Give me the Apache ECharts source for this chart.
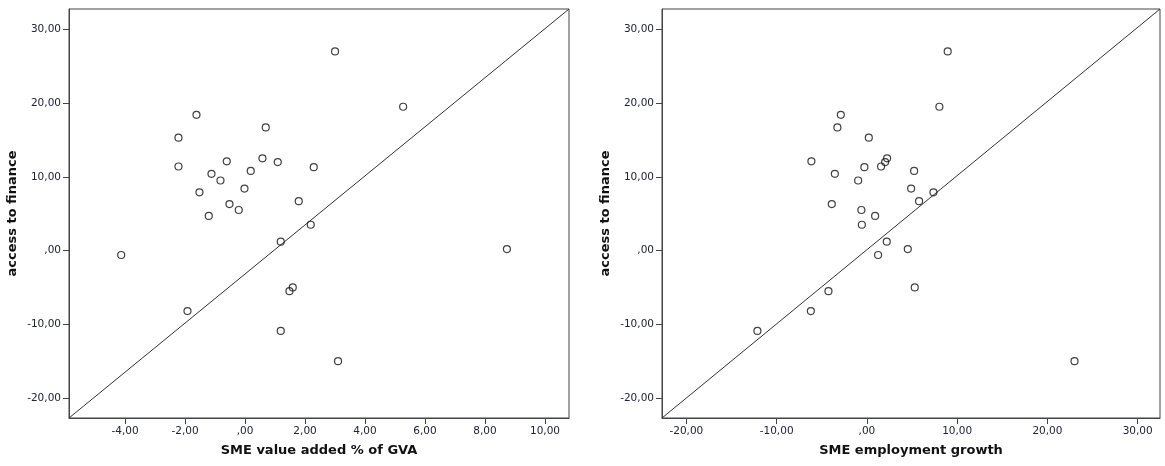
<!DOCTYPE html>
<html>
<head>
<meta charset="utf-8">
<script src="https://cdn.jsdelivr.net/npm/echarts@6/dist/echarts.min.js"></script>
<style>
html,body{margin:0;padding:0;background:#fff;}
#chart{width:1165px;height:466px;}
</style>
</head>
<body>
<div id="chart"></div>
<script>
// ---- data ----
const accessToFinance = [27.0, 19.5, 18.4, 16.7, 15.3, 12.1, 12.5, 12.0, 11.4, 11.3, 10.8, 10.4, 9.5, 7.9, 8.4, 6.7, 6.3, 5.5, 4.7, 3.5, 1.2, -0.6, 0.2, -5.0, -5.5, -8.2, -10.9, -15.0];
const smeValueAdded = [3.0, 5.27, -1.62, 0.69, -2.22, -0.61, 0.58, 1.09, -2.22, 2.29, 0.19, -1.12, -0.82, -1.52, -0.02, 1.79, -0.52, -0.21, -1.21, 2.19, 1.19, -4.13, 8.73, 1.59, 1.48, -1.92, 1.19, 3.1];
const smeEmploymentGrowth = [8.95, 8.03, -2.89, -3.27, 0.21, -6.15, 2.24, 2.02, 1.57, -0.28, 5.23, -3.55, -0.97, 7.37, 4.9, 5.78, -3.89, -0.61, 0.91, -0.56, 2.2, 1.24, 4.53, 5.3, -4.26, -6.21, -12.13, 23.0];

const yTicks = [-20, -10, 0, 10, 20, 30];
const yTickLabels = ['-20,00', '-10,00', ',00', '10,00', '20,00', '30,00'];
const x1Ticks = [-4, -2, 0, 2, 4, 6, 8, 10];
const x1TickLabels = ['-4,00', '-2,00', ',00', '2,00', '4,00', '6,00', '8,00', '10,00'];
const x2Ticks = [-20, -10, 0, 10, 20, 30];
const x2TickLabels = ['-20,00', '-10,00', ',00', '10,00', '20,00', '30,00'];

const yRange = [-22.7, 32.75];
const x1Range = [-5.87, 10.8];
const x2Range = [-22.7, 32.47];

const yTitle = 'access to finance';
const x1Title = 'SME value added % of GVA';
const x2Title = 'SME employment growth';

// ---- chart ----
function labelMap(ticks, labels) {
  const m = {};
  ticks.forEach((t, i) => { m[t] = labels[i]; });
  return v => (m[v] !== undefined ? m[v] : '');
}
const FONT = 'DejaVu Sans';
const axisCommon = {
  type: 'value',
  splitLine: { show: false },
  axisLine: { show: true, onZero: false, lineStyle: { color: '#444', width: 1 } },
  nameLocation: 'middle',
  nameTextStyle: { fontFamily: FONT, fontWeight: 'bold', fontSize: 13, color: '#111' }
};
function xAxis(idx, range, ticks, labels, title) {
  return Object.assign({}, axisCommon, {
    gridIndex: idx, min: range[0], max: range[1], name: title, nameGap: 26,
    axisTick: { show: true, length: 6, customValues: ticks, lineStyle: { color: '#444' } },
    axisLabel: { customValues: ticks, formatter: labelMap(ticks, labels), margin: 8,
      fontFamily: FONT, fontSize: 10.5, color: '#22223a' }
  });
}
function yAxis(idx) {
  return Object.assign({}, axisCommon, {
    gridIndex: idx, min: yRange[0], max: yRange[1], name: yTitle, nameGap: 50, nameRotate: 90,
    axisTick: { show: true, length: 6, customValues: yTicks, lineStyle: { color: '#444' } },
    axisLabel: { customValues: yTicks, formatter: labelMap(yTicks, yTickLabels), margin: 8,
      fontFamily: FONT, fontSize: 10.5, color: '#22223a' }
  });
}
function scatter(idx, xs) {
  return {
    type: 'scatter', xAxisIndex: idx, yAxisIndex: idx,
    data: xs.map((x, i) => [x, accessToFinance[i]]),
    symbol: 'circle', symbolSize: 7,
    itemStyle: { color: 'rgba(255,255,255,0)', borderColor: '#111', borderWidth: 1.2 },
    emphasis: { disabled: true }, z: 3
  };
}
function diag(idx, xr) {
  return {
    type: 'line', xAxisIndex: idx, yAxisIndex: idx,
    data: [[xr[0], yRange[0]], [xr[1], yRange[1]]],
    symbol: 'none', lineStyle: { color: '#333', width: 1 }, silent: true, z: 2
  };
}
const chart = echarts.init(document.getElementById('chart'), null, { renderer: 'canvas' });
chart.setOption({
  animation: false,
  backgroundColor: '#fff',
  grid: [
    { left: 69, top: 9, width: 500, height: 409, show: true, borderColor: '#444', borderWidth: 1, backgroundColor: 'transparent' },
    { left: 662, top: 9, width: 498, height: 409, show: true, borderColor: '#444', borderWidth: 1, backgroundColor: 'transparent' }
  ],
  xAxis: [
    xAxis(0, x1Range, x1Ticks, x1TickLabels, x1Title),
    xAxis(1, x2Range, x2Ticks, x2TickLabels, x2Title)
  ],
  yAxis: [yAxis(0), yAxis(1)],
  series: [
    diag(0, x1Range), scatter(0, smeValueAdded),
    diag(1, x2Range), scatter(1, smeEmploymentGrowth)
  ]
});
</script>
</body>
</html>
